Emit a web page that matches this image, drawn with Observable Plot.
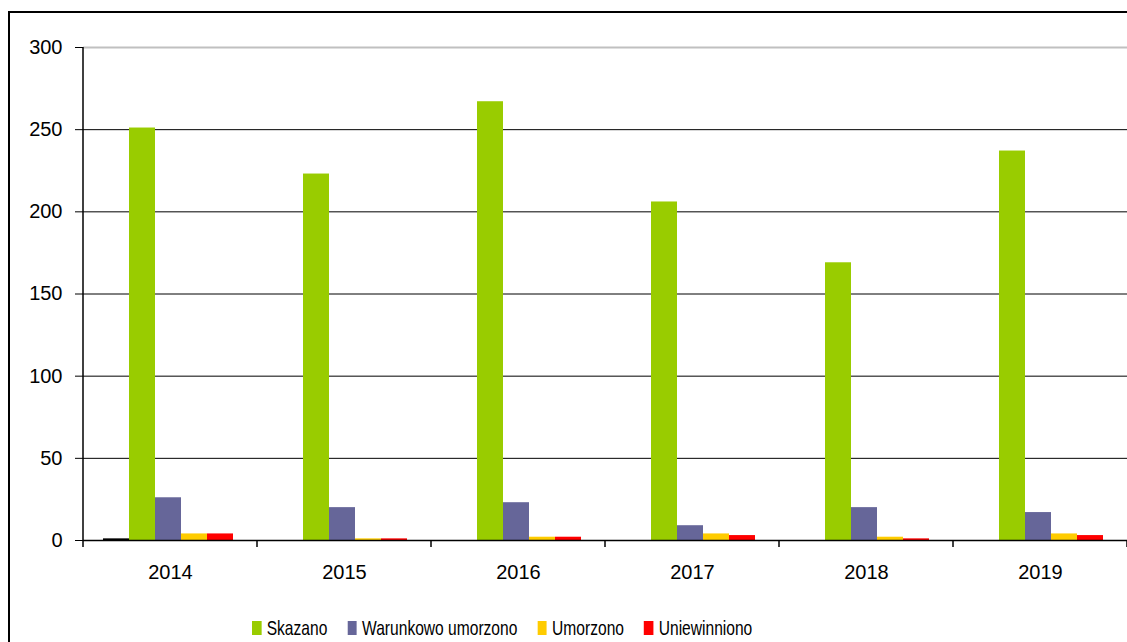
<!DOCTYPE html>
<html>
<head>
<meta charset="utf-8">
<script src="https://cdn.jsdelivr.net/npm/d3@7"></script>
<script src="https://cdn.jsdelivr.net/npm/@observablehq/plot@0.6"></script>
<style>
  html, body { margin: 0; padding: 0; background: #fff; overflow: hidden; width: 1127px; height: 642px; }
  #border { position: absolute; left: 8px; top: 11px; width: 1200px; height: 700px; border: 2px solid #000; box-sizing: border-box; }
  #chart { position: absolute; left: 0; top: 0; }
  #legend { position: absolute; left: 252px; top: 617px; font-family: "Liberation Sans", Arial, sans-serif; font-size: 21px; line-height: 21px; color: #000; white-space: nowrap; transform: scaleX(0.742); transform-origin: 0 0; }
  #legend .item { display: inline-block; margin-right: 27px; }
  #legend .sw { display: inline-block; width: 12.5px; height: 14px; margin-right: 7.3px; vertical-align: baseline; }
</style>
</head>
<body>
<div id="border"></div>
<div id="chart"></div>
<div id="legend"></div>
<script>
const years = ["2014", "2015", "2016", "2017", "2018", "2019"];
const seriesNames = ["Inne", "Skazano", "Warunkowo umorzono", "Umorzono", "Uniewinniono"];
const seriesColors = ["#000000", "#99cc00", "#666699", "#ffcc00", "#ff0000"];
const legendSeries = ["Skazano", "Warunkowo umorzono", "Umorzono", "Uniewinniono"];
const inne = [1, 0, 0, 0, 0, 0];
const skazano = [251, 223, 267, 206, 169, 237];
const warunkowo = [26, 20, 23, 9, 20, 17];
const umorzono = [4, 1, 2, 4, 2, 4];
const uniewinniono = [4, 1, 2, 3, 1, 3];
const yTicks = [0, 50, 100, 150, 200, 250, 300];

const valuesBySeries = [inne, skazano, warunkowo, umorzono, uniewinniono];
const data = [];
years.forEach((yr, i) => {
  seriesNames.forEach((s, j) => {
    data.push({year: yr, series: s, value: valuesBySeries[j][i]});
  });
});

const chart = Plot.plot({
  width: 1127,
  height: 600,
  marginLeft: 83,
  marginRight: 0,
  marginTop: 47,
  marginBottom: 60,
  style: {fontFamily: "'Liberation Sans', Arial, sans-serif", fontSize: "20px", color: "#000", background: "transparent"},
  fx: {domain: years, padding: 0, label: null, axis: "bottom", tickSize: 0, tickPadding: 24},
  x: {domain: seriesNames, paddingInner: 0, paddingOuter: 0.76, align: 0.45, axis: null},
  y: {domain: [0, 300], ticks: yTicks, label: null, tickSize: 8, tickPadding: 13},
  color: {domain: seriesNames, range: seriesColors},
  marks: [
    Plot.ruleY(yTicks.filter(d => d > 0 && d < 300), {stroke: "#000", strokeWidth: 1}),
    Plot.ruleY([300], {stroke: "#c0c0c0", strokeWidth: 2}),
    Plot.barY(data, {fx: "year", x: "series", y: "value", fill: "series"}),
    Plot.ruleY([0], {stroke: "#000", strokeWidth: 1.5})
  ]
});
document.getElementById("chart").appendChild(chart);

// y-axis line and category boundary ticks, positioned with Plot's own scales
const svg = d3.select(chart);
const fx = chart.scale("fx");
const y = chart.scale("y");
const x0 = fx.apply(years[0]);
svg.append("line")
  .attr("x1", x0).attr("x2", x0)
  .attr("y1", y.apply(300)).attr("y2", y.apply(0))
  .attr("stroke", "#000").attr("stroke-width", 1.5);
const bounds = years.map(yr => fx.apply(yr)).concat([fx.apply(years[years.length - 1]) + fx.bandwidth]);
bounds.forEach(bx => {
  svg.append("line")
    .attr("x1", bx).attr("x2", bx)
    .attr("y1", y.apply(0)).attr("y2", y.apply(0) + 7)
    .attr("stroke", "#000").attr("stroke-width", 1.5);
});

// legend
const legend = document.getElementById("legend");
legendSeries.forEach(s => {
  const item = document.createElement("span");
  item.className = "item";
  const sw = document.createElement("span");
  sw.className = "sw";
  sw.style.background = seriesColors[seriesNames.indexOf(s)];
  item.appendChild(sw);
  item.appendChild(document.createTextNode(s));
  legend.appendChild(item);
});
</script>
</body>
</html>
